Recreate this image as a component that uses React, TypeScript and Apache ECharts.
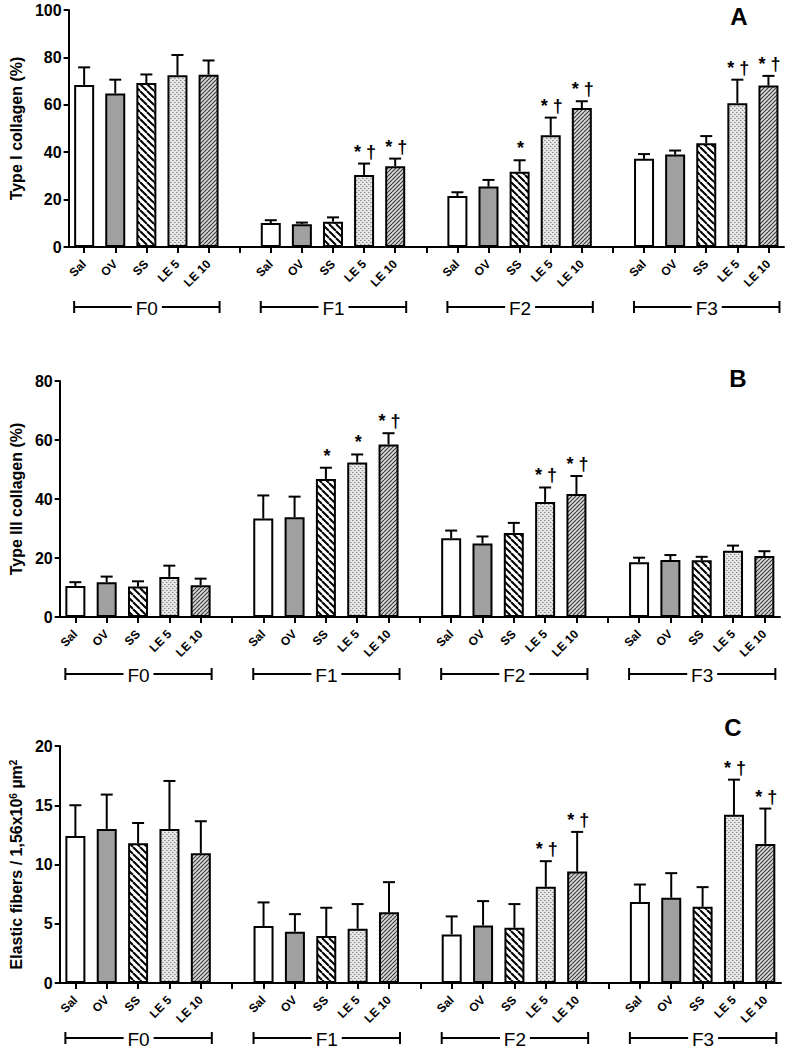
import React, { useEffect, useRef } from 'react';
import * as echarts from 'echarts';

const groups = ['F0', 'F1', 'F2', 'F3'];
const treatments = ['Sal', 'OV', 'SS', 'LE 5', 'LE 10'];

// Panel A – Type I collagen (%)
const typeIMean = [
  [68.4, 64.8, 69.2, 72.5, 72.7],
  [10.1, 9.6, 10.7, 30.4, 34.1],
  [21.5, 25.5, 31.8, 47.2, 58.6],
  [37.2, 39.0, 43.8, 60.7, 68.1],
];
const typeISem = [
  [7.4, 5.8, 3.6, 8.5, 6.0],
  [1.2, 0.7, 1.8, 4.8, 3.2],
  [1.6, 2.8, 4.8, 7.4, 2.9],
  [2.0, 1.7, 3.0, 9.9, 4.1],
];
const typeIMarks = [
  ['', '', '', '', ''],
  ['', '', '', '* †', '* †'],
  ['', '', '*', '* †', '* †'],
  ['', '', '', '* †', '* †'],
];

// Panel B – Type III collagen (%)
const typeIIIMean = [
  [10.5, 11.8, 10.3, 13.6, 10.8],
  [33.4, 33.8, 46.8, 52.4, 58.5],
  [26.7, 24.9, 28.5, 39.0, 41.7],
  [18.6, 19.3, 19.2, 22.5, 20.7],
];
const typeIIISem = [
  [1.3, 1.9, 1.8, 3.8, 2.2],
  [7.8, 7.0, 3.8, 2.7, 3.8],
  [2.6, 2.4, 3.4, 4.9, 6.1],
  [1.5, 1.7, 1.2, 1.7, 1.6],
];
const typeIIIMarks = [
  ['', '', '', '', ''],
  ['', '', '*', '*', '* †'],
  ['', '', '', '* †', '* †'],
  ['', '', '', '', ''],
];

// Panel C – Elastic fibers
const elasticMean = [
  [12.4, 13.0, 11.8, 13.0, 10.95],
  [4.8, 4.33, 3.96, 4.58, 5.96],
  [4.1, 4.86, 4.66, 8.12, 9.41],
  [6.83, 7.19, 6.43, 14.19, 11.74],
];
const elasticSem = [
  [2.6, 2.9, 1.7, 4.05, 2.7],
  [2.0, 1.48, 2.39, 2.08, 2.55],
  [1.52, 2.05, 2.0, 2.16, 3.34],
  [1.48, 2.08, 1.66, 2.97, 2.98],
];
const elasticMarks = [
  ['', '', '', '', ''],
  ['', '', '', '', ''],
  ['', '', '', '* †', '* †'],
  ['', '', '', '* †', '* †'],
];

const FONT = '"Liberation Sans", Arial, Helvetica, sans-serif';

function makePattern(kind: string): any {
  const c = document.createElement('canvas');
  const ctx = c.getContext('2d')!;
  if (kind === 'ss') {
    const s = 7;
    c.width = s; c.height = s;
    ctx.fillStyle = '#fff';
    ctx.fillRect(0, 0, s, s);
    ctx.strokeStyle = '#000';
    ctx.lineWidth = 2;
    for (const k of [-s, 0, s]) {
      ctx.beginPath();
      ctx.moveTo(k, 0);
      ctx.lineTo(k + s, s);
      ctx.stroke();
    }
  } else if (kind === 'le10') {
    const s = 4;
    c.width = s; c.height = s;
    ctx.fillStyle = '#d6d6d6';
    ctx.fillRect(0, 0, s, s);
    ctx.strokeStyle = '#3a3a3a';
    ctx.lineWidth = 1.1;
    for (const k of [-s, 0, s]) {
      ctx.beginPath();
      ctx.moveTo(k, s);
      ctx.lineTo(k + s, 0);
      ctx.stroke();
    }
  } else {
    const s = 4;
    c.width = s; c.height = s;
    ctx.fillStyle = '#e6e6e6';
    ctx.fillRect(0, 0, s, s);
    ctx.fillStyle = '#8c8c8c';
    ctx.fillRect(0, 0, 1.5, 1);
    ctx.fillRect(2, 2, 1.5, 1);
  }
  return { image: c, repeat: 'repeat' };
}

export default function App() {
  const ref = useRef<HTMLDivElement>(null);

  useEffect(() => {
    if (!ref.current) return;
    const chart = echarts.init(ref.current, undefined, { renderer: 'svg' });

    const fills = ['#ffffff', '#a0a0a0', makePattern('ss'), makePattern('le5'), makePattern('le10')];

    const categories: string[] = [];
    groups.forEach((g, gi) => {
      treatments.forEach((t) => categories.push(t));
      if (gi < groups.length - 1) categories.push('');
    });

    const panels = [
      { mean: typeIMean, sem: typeISem, marks: typeIMarks, max: 100, interval: 20,
        name: 'Type I collagen (%)', grid: { left: 62, top: 10, width: 722, height: 237 }, nameGap: 44, bracket: 60, letter: 'A', lx: 739, ly: 16 },
      { mean: typeIIIMean, sem: typeIIISem, marks: typeIIIMarks, max: 80, interval: 20,
        name: 'Type III collagen (%)', grid: { left: 58, top: 381, width: 722, height: 236 }, nameGap: 32, bracket: 57, letter: 'B', lx: 738, ly: 378 },
      { mean: elasticMean, sem: elasticSem, marks: elasticMarks, max: 20, interval: 5,
        name: 'Elastic fibers / 1,56x10{sup|6} µm{sup|2}', grid: { left: 59, top: 746, width: 722, height: 237 }, nameGap: 29, bracket: 55, letter: 'C', lx: 733, ly: 727 },
    ];

    const grid: any[] = [];
    const xAxis: any[] = [];
    const yAxis: any[] = [];
    const series: any[] = [];
    const graphic: any[] = [];

    panels.forEach((p, pi) => {
      grid.push({ ...p.grid, containLabel: false });
      xAxis.push({
        gridIndex: pi,
        type: 'category',
        data: categories,
        axisLine: { show: true, lineStyle: { color: '#000', width: 2 } },
        axisTick: { show: true, alignWithLabel: true, interval: 0, length: 6, lineStyle: { color: '#000', width: 2 } },
        axisLabel: { interval: 0, rotate: 45, margin: 15, fontSize: 12, fontWeight: 'bold', color: '#000', fontFamily: FONT },
        splitLine: { show: false },
      });
      yAxis.push({
        gridIndex: pi,
        type: 'value',
        min: 0,
        max: p.max,
        interval: p.interval,
        axisLine: { show: true, lineStyle: { color: '#000', width: 2 } },
        axisTick: { show: true, length: 5, lineStyle: { color: '#000', width: 2 } },
        axisLabel: { margin: 7, fontSize: 16, fontWeight: 'bold', color: '#000', fontFamily: FONT },
        splitLine: { show: false },
        name: p.name,
        nameLocation: 'middle',
        nameRotate: 90,
        nameGap: p.nameGap,
        nameTextStyle: {
          fontSize: 16, fontWeight: 'bold', color: '#000', fontFamily: FONT,
          rich: { sup: { fontSize: 10, fontWeight: 'bold', color: '#000', fontFamily: FONT, verticalAlign: 'top' } },
        },
      });

      const barData: any[] = [];
      const errData: any[] = [];
      const markList: string[] = [];
      p.mean.forEach((row, gi) => {
        row.forEach((v, ti) => {
          const idx = gi * 6 + ti;
          barData.push({ value: v, itemStyle: { color: fills[ti], borderColor: '#000', borderWidth: 2 } });
          errData.push([idx, v, v + p.sem[gi][ti]]);
          markList.push(p.marks[gi][ti]);
        });
        if (gi < p.mean.length - 1) barData.push('-');
      });

      series.push({
        type: 'bar',
        xAxisIndex: pi,
        yAxisIndex: pi,
        data: barData,
        barWidth: 20,
        z: 2,
      });

      series.push({
        type: 'custom',
        xAxisIndex: pi,
        yAxisIndex: pi,
        data: errData,
        z: 3,
        renderItem: (params: any, api: any) => {
          const x = api.value(0);
          const m = api.value(1);
          const u = api.value(2);
          const p0 = api.coord([x, m]);
          const p1 = api.coord([x, u]);
          const children: any[] = [
            { type: 'line', shape: { x1: p0[0], y1: p0[1], x2: p1[0], y2: p1[1] }, style: { stroke: '#000', lineWidth: 2 } },
            { type: 'line', shape: { x1: p1[0] - 6, y1: p1[1], x2: p1[0] + 6, y2: p1[1] }, style: { stroke: '#000', lineWidth: 2 } },
          ];
          const mk = markList[params.dataIndex];
          if (mk) {
            children.push({
              type: 'text',
              x: p1[0] + 1,
              y: p1[1] - 3,
              style: { text: mk, align: 'center', verticalAlign: 'bottom', font: `bold 18px ${FONT}`, fill: '#000' },
            });
          }
          return { type: 'group', children };
        },
      });

      const bracketData = groups.map((g, gi) => [gi * 6, gi * 6 + 4]);
      series.push({
        type: 'custom',
        xAxisIndex: pi,
        yAxisIndex: pi,
        data: bracketData,
        z: 3,
        silent: true,
        renderItem: (params: any, api: any) => {
          const a = api.coord([api.value(0), 0]);
          const b = api.coord([api.value(1), 0]);
          const y = a[1] + p.bracket;
          const x0 = a[0] - 10;
          const x1 = b[0] + 11;
          const cx = (x0 + x1) / 2;
          const ls = { stroke: '#000', lineWidth: 2 };
          return {
            type: 'group',
            children: [
              { type: 'line', shape: { x1: x0, y1: y, x2: cx - 15, y2: y }, style: ls },
              { type: 'line', shape: { x1: cx + 15, y1: y, x2: x1, y2: y }, style: ls },
              { type: 'line', shape: { x1: x0, y1: y - 6, x2: x0, y2: y + 6 }, style: ls },
              { type: 'line', shape: { x1: x1, y1: y - 6, x2: x1, y2: y + 6 }, style: ls },
              { type: 'text', x: cx, y: y + 1, style: { text: groups[params.dataIndex], align: 'center', verticalAlign: 'middle', font: `19px ${FONT}`, fill: '#000' } },
            ],
          };
        },
      });

      graphic.push({
        type: 'text',
        x: p.lx,
        y: p.ly,
        style: { text: p.letter, align: 'center', verticalAlign: 'middle', font: `bold 24px ${FONT}`, fill: '#000' },
      });
    });

    chart.setOption({
      animation: false,
      backgroundColor: '#ffffff',
      grid,
      xAxis,
      yAxis,
      series,
      graphic,
    });

    return () => chart.dispose();
  }, []);

  return (
    <div
      ref={ref}
      style={{ position: 'fixed', left: 0, top: 0, width: 788, height: 1048, background: '#fff' }}
    />
  );
}
